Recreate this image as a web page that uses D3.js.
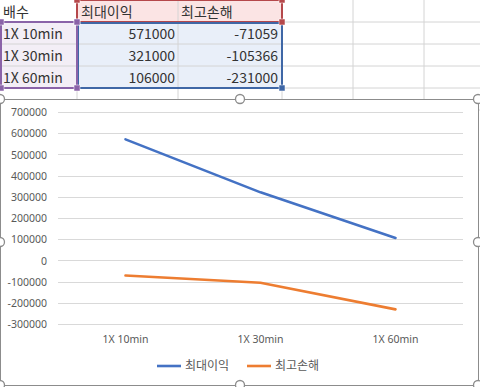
<!DOCTYPE html>
<html>
<head>
<meta charset="utf-8">
<script src="https://cdn.jsdelivr.net/npm/d3@7"></script>
<style>
  body { margin: 0; background: #fff; }
  svg { display: block; }
</style>
</head>
<body>
<svg width="480" height="387"></svg>
<script>
  // 데이터
  let categories = ["1X 10min", "1X 30min", "1X 60min"];
  let seriesNames = ["최대이익", "최고손해"];
  let maxProfit = [571000, 321000, 106000];
  let maxLoss = [-71059, -105366, -231000];
  let yTicks = [700000, 600000, 500000, 400000, 300000, 200000, 100000, 0, -100000, -200000, -300000];
  let headerLabel = "배수";

  let colors = ["#4472C4", "#ED7D31"];
  let font = "'Noto Sans CJK KR', 'Noto Sans', sans-serif";
  let numFont = "'Noto Sans', 'Noto Sans CJK KR', sans-serif";

  const svg = d3.select("svg");

  // 시트 격자
  let colX = [0, 77, 178, 282, 353, 424, 480];
  let rowY = [0, 22, 44, 66, 88, 110];
  const sheet = svg.append("g");

  sheet.append("rect").attr("x", 77).attr("y", 0).attr("width", 205).attr("height", 22).attr("fill", "#fbe4e4");
  sheet.append("rect").attr("x", 77).attr("y", 22).attr("width", 205).attr("height", 66).attr("fill", "#e9eff9");
  sheet.append("rect").attr("x", 0).attr("y", 22).attr("width", 77).attr("height", 66).attr("fill", "#f3eef6");

  colX.slice(1, -1).forEach(x => {
    sheet.append("line").attr("x1", x).attr("x2", x).attr("y1", 0).attr("y2", 110)
      .attr("stroke", "#d4d4d4");
  });
  rowY.slice(1).forEach(y => {
    sheet.append("line").attr("x1", 0).attr("x2", 480).attr("y1", y).attr("y2", y)
      .attr("stroke", "#d4d4d4");
  });

  // 범위 테두리
  sheet.append("rect").attr("x", 77).attr("y", 0).attr("width", 205).attr("height", 22)
    .attr("fill", "none").attr("stroke", "#b5484b").attr("stroke-width", 2);
  sheet.append("rect").attr("x", 78).attr("y", 23).attr("width", 204).attr("height", 65)
    .attr("fill", "none").attr("stroke", "#3f67a6").attr("stroke-width", 2);
  sheet.append("rect").attr("x", 1).attr("y", 22).attr("width", 76).attr("height", 66)
    .attr("fill", "none").attr("stroke", "#8a63a8").attr("stroke-width", 2);
  [[77, 0, "#b5484b"], [282, 0, "#b5484b"], [77, 22, "#b5484b"], [282, 22, "#b5484b"],
   [282, 88, "#3f67a6"], [1, 22, "#8a63a8"], [77, 22, "#8a63a8"], [1, 88, "#8a63a8"], [77, 88, "#8a63a8"]]
    .forEach(d => {
      sheet.append("rect").attr("x", d[0] - 3).attr("y", d[1] - 3).attr("width", 6).attr("height", 6)
        .attr("fill", d[2]).attr("stroke", "#fff").attr("stroke-width", 0.5);
    });

  // 셀 텍스트
  const cellText = (x, y, t, anchor) => sheet.append("text").attr("x", x).attr("y", y)
    .attr("text-anchor", anchor).attr("font-family", font).attr("font-size", 14)
    .attr("fill", "#333").text(t);
  cellText(3, 17, headerLabel, "start");
  cellText(81, 17, seriesNames[0], "start");
  cellText(181, 17, seriesNames[1], "start");
  categories.forEach((c, i) => {
    let y = rowY[i + 1] + 17;
    cellText(3, y, c, "start");
    cellText(175, y, String(maxProfit[i]), "end");
    cellText(278, y, String(maxLoss[i]), "end");
  });

  // 차트 영역
  const chartBox = { x: 0, y: 99, w: 478, h: 286 };
  svg.append("rect").attr("x", chartBox.x + 0.5).attr("y", chartBox.y + 0.5)
    .attr("width", chartBox.w).attr("height", chartBox.h)
    .attr("fill", "#fff").attr("stroke", "#8c8c8c").attr("stroke-width", 1);

  const margin = { left: 58, right: 463, top: 112, bottom: 324 };
  const x = d3.scaleBand().domain(categories).range([margin.left, margin.right]);
  const y = d3.scaleLinear().domain([-300000, 700000]).range([margin.bottom, margin.top]);

  // 눈금선
  svg.append("g").selectAll("line").data(yTicks).join("line")
    .attr("x1", margin.left).attr("x2", margin.right)
    .attr("y1", d => Math.round(y(d)) + 0.5).attr("y2", d => Math.round(y(d)) + 0.5)
    .attr("stroke", "#d9d9d9").attr("stroke-width", 1);

  const yAxis = svg.append("g").attr("transform", `translate(${margin.left - 11},0)`)
    .call(d3.axisLeft(y).tickValues(yTicks).tickSize(0).tickPadding(0).tickFormat(d => d));
  yAxis.select(".domain").remove();
  yAxis.selectAll("text").attr("font-family", numFont).attr("font-size", 10.5).attr("fill", "#595959").attr("dy", "0.35em");

  const xAxis = svg.append("g").attr("transform", `translate(0,${margin.bottom + 9})`)
    .call(d3.axisBottom(x).tickSize(0));
  xAxis.select(".domain").remove();
  xAxis.selectAll("text").attr("font-family", numFont).attr("font-size", 10.5).attr("fill", "#595959");

  // 선
  const line = d3.line().x((d, i) => x(categories[i]) + x.bandwidth() / 2).y(d => y(d));
  [maxProfit, maxLoss].forEach((s, k) => {
    svg.append("path").datum(s).attr("d", line).attr("fill", "none")
      .attr("stroke", colors[k]).attr("stroke-width", 2.6).attr("stroke-linecap", "round");
  });

  // 범례
  const legend = svg.append("g").attr("transform", "translate(0,366)");
  let legendX = [157, 247];
  seriesNames.forEach((n, k) => {
    legend.append("line").attr("x1", legendX[k]).attr("x2", legendX[k] + 24).attr("y1", 0).attr("y2", 0)
      .attr("stroke", colors[k]).attr("stroke-width", 2.6);
    legend.append("text").attr("x", legendX[k] + 28).attr("y", 0).attr("dy", "0.35em")
      .attr("font-family", font).attr("font-size", 12).attr("fill", "#595959").text(n);
  });

  // 선택 핸들
  let handles = [[0, 99], [240, 99], [478, 99], [0, 242], [478, 242], [0, 385], [240, 385], [478, 385]];
  svg.append("g").selectAll("circle").data(handles).join("circle")
    .attr("cx", d => d[0]).attr("cy", d => d[1]).attr("r", 4.5)
    .attr("fill", "#fff").attr("stroke", "#8c8c8c").attr("stroke-width", 1.3);
</script>
</body>
</html>
